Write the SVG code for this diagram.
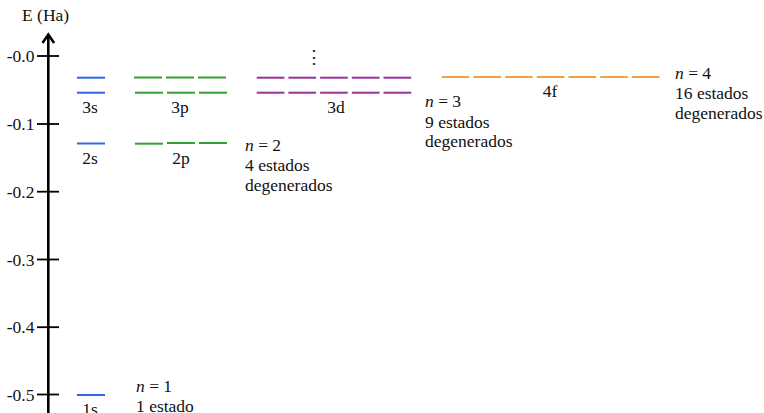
<svg xmlns="http://www.w3.org/2000/svg" width="764" height="413" viewBox="0 0 764 413">
<style>
text{font-family:"Liberation Serif","Times New Roman",serif;font-size:17.5px;fill:#111}
.ax{stroke:#000;stroke-width:2.6;fill:none}
.tk{stroke:#000;stroke-width:1.8}
.s{stroke:#3366e6;stroke-width:2}
.p{stroke:#33a033;stroke-width:2}
.d{stroke:#993399;stroke-width:2}
.f{stroke:#f5a040;stroke-width:2}
.tl{text-anchor:end}
.c{text-anchor:middle}
</style>
<rect width="764" height="413" fill="#fff"/>
<g id="axis">
<line class="ax" x1="48.3" y1="413" x2="48.3" y2="35"/>
<polyline class="ax" points="42.5,43 48.3,34.5 54.1,43" stroke-linejoin="miter"/>
<text x="22" y="21">E (Ha)</text>
<line class="tk" x1="37" y1="56" x2="59" y2="56"/>
<line class="tk" x1="37" y1="124" x2="59" y2="124"/>
<line class="tk" x1="37" y1="191.7" x2="59" y2="191.7"/>
<line class="tk" x1="37" y1="259.5" x2="59" y2="259.5"/>
<line class="tk" x1="37" y1="327.2" x2="59" y2="327.2"/>
<line class="tk" x1="37" y1="394.5" x2="59" y2="394.5"/>
<text class="tl" x="34.5" y="62">-0.0</text>
<text class="tl" x="34.5" y="130">-0.1</text>
<text class="tl" x="34.5" y="197.7">-0.2</text>
<text class="tl" x="34.5" y="265.5">-0.3</text>
<text class="tl" x="34.5" y="333.2">-0.4</text>
<text class="tl" x="34.5" y="400.5">-0.5</text>
</g>
<g id="connectors"></g>
<g id="n1">
<line class="s" x1="77" y1="395" x2="105" y2="395"/>
<text class="c" x="90" y="415">1s</text>
<text x="136" y="392"><tspan font-style="italic">n</tspan> = 1</text>
<text x="136" y="412">1 estado</text>
</g>
<g id="n2">
<line class="s" x1="77" y1="143.5" x2="105" y2="143.5"/>
<text class="c" x="90" y="163.5">2s</text>
<line class="p" x1="135" y1="143.7" x2="163" y2="143.7"/>
<line class="p" x1="167" y1="143" x2="195" y2="143"/>
<line class="p" x1="199" y1="143" x2="227" y2="143"/>
<text class="c" x="181" y="163.5">2p</text>
<text x="245" y="151"><tspan font-style="italic">n</tspan> = 2</text>
<text x="245" y="171">4 estados</text>
<text x="245" y="190.5">degenerados</text>
</g>
<g id="n3">
<line class="s" x1="77" y1="92.7" x2="105" y2="92.7"/>
<text class="c" x="90" y="113">3s</text>
<line class="p" x1="135" y1="92.7" x2="163" y2="92.7"/>
<line class="p" x1="167" y1="92.7" x2="195" y2="92.7"/>
<line class="p" x1="199" y1="92.7" x2="227" y2="92.7"/>
<text class="c" x="180" y="113">3p</text>
<line class="d" x1="256.7" y1="92.7" x2="284.4" y2="92.7"/>
<line class="d" x1="288.4" y1="92.7" x2="316.1" y2="92.7"/>
<line class="d" x1="320.1" y1="92.7" x2="347.8" y2="92.7"/>
<line class="d" x1="351.8" y1="92.7" x2="379.5" y2="92.7"/>
<line class="d" x1="383.5" y1="92.7" x2="411.2" y2="92.7"/>
<text class="c" x="336" y="113">3d</text>
<text x="425" y="107"><tspan font-style="italic">n</tspan> = 3</text>
<text x="425" y="127.5">9 estados</text>
<text x="425" y="147">degenerados</text>
</g>
<g id="n4">
<line class="s" x1="77" y1="77.7" x2="105" y2="77.7"/>
<line class="p" x1="134" y1="77.5" x2="162" y2="77.5"/>
<line class="p" x1="166" y1="77.5" x2="194" y2="77.5"/>
<line class="p" x1="198" y1="77.5" x2="226" y2="77.5"/>
<line class="d" x1="256.7" y1="77.7" x2="284.4" y2="77.7"/>
<line class="d" x1="288.4" y1="77.7" x2="316.1" y2="77.7"/>
<line class="d" x1="320.1" y1="77.7" x2="347.8" y2="77.7"/>
<line class="d" x1="351.8" y1="77.7" x2="379.5" y2="77.7"/>
<line class="d" x1="383.5" y1="77.7" x2="411.2" y2="77.7"/>
<line class="f" x1="441.7" y1="77" x2="469.3" y2="77"/>
<line class="f" x1="473.4" y1="77" x2="501" y2="77"/>
<line class="f" x1="505.1" y1="77" x2="532.7" y2="77"/>
<line class="f" x1="536.8" y1="77" x2="564.4" y2="77"/>
<line class="f" x1="568.5" y1="77" x2="596.1" y2="77"/>
<line class="f" x1="600.2" y1="77" x2="627.8" y2="77"/>
<line class="f" x1="631.9" y1="77" x2="659.5" y2="77"/>
<text class="c" x="550" y="97">4f</text>
<text x="675" y="78.5"><tspan font-style="italic">n</tspan> = 4</text>
<text x="675" y="98.5">16 estados</text>
<text x="675" y="118.5">degenerados</text>
<text class="c" x="314" y="63">⋮</text>
</g>
</svg>
